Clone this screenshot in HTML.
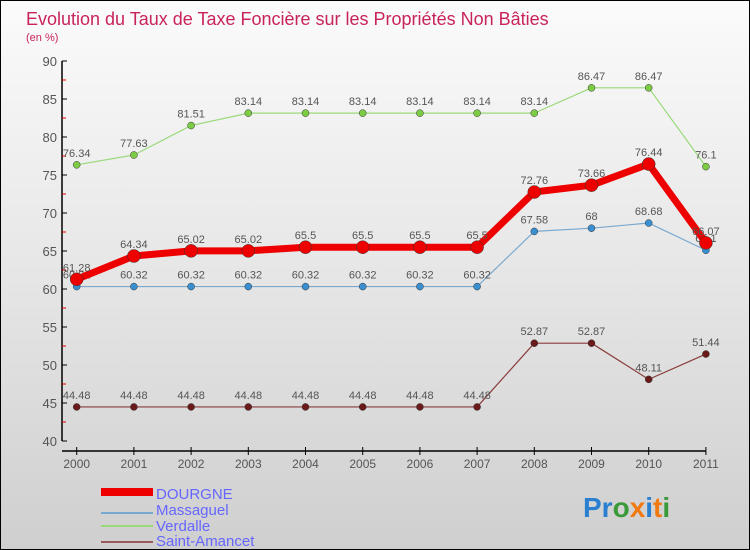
<!DOCTYPE html>
<html><head><meta charset="utf-8"><style>
body{margin:0}
#c{width:748px;height:548px;border:1px solid #000;background:linear-gradient(#fbfbfb,#e6e6e6 50%,#cfcfcf);position:relative;overflow:hidden;font-family:"Liberation Sans",sans-serif}
</style></head><body>
<div id="c">
<svg width="748" height="548" style="position:absolute;left:0;top:0" id="svg">
<text x="25" y="24" font-size="18" fill="#c8245a">Evolution du Taux de Taxe Foncière sur les Propriétés Non Bâties</text>
<text x="25" y="40" font-size="11" fill="#c8245a">(en %)</text>
<g id="axes"></g><g id="series"></g>
<g>
<rect x="100" y="487" width="52" height="8" fill="#e00"/>
<text x="155" y="498" font-size="15" fill="#6666ff">DOURGNE</text>
<line x1="100" y1="512" x2="152" y2="512" stroke="#7aa9d0" stroke-width="2"/>
<text x="155" y="514" font-size="15" fill="#6666ff">Massaguel</text>
<line x1="100" y1="525" x2="152" y2="525" stroke="#99d97a" stroke-width="2"/>
<text x="155" y="530" font-size="15" fill="#6666ff">Verdalle</text>
<line x1="100" y1="541" x2="152" y2="541" stroke="#9a5a5a" stroke-width="2"/>
<text x="155" y="545" font-size="15" fill="#6666ff">Saint-Amancet</text>
</g>
<text x="582" y="516" font-size="28" font-weight="bold"><tspan fill="#2a7fd0">Pr</tspan><tspan fill="#3a9a3a">o</tspan><tspan fill="#f07a10">x</tspan><tspan fill="#2a7fd0">i</tspan><tspan fill="#f07a10">t</tspan><tspan fill="#3a9a3a">i</tspan></text>
</svg>
</div>
<script>
const years=[2000,2001,2002,2003,2004,2005,2006,2007,2008,2009,2010,2011];
const yTicks=[40,45,50,55,60,65,70,75,80,85,90];
const dourgne=[61.28,64.34,65.02,65.02,65.5,65.5,65.5,65.5,72.76,73.66,76.44,66.07];
const massaguel=[60.32,60.32,60.32,60.32,60.32,60.32,60.32,60.32,67.58,68,68.68,65.1];
const verdalle=[76.34,77.63,81.51,83.14,83.14,83.14,83.14,83.14,83.14,86.47,86.47,76.1];
const saintAmancet=[44.48,44.48,44.48,44.48,44.48,44.48,44.48,44.48,52.87,52.87,48.11,51.44];
const NS="http://www.w3.org/2000/svg";
const X=i=>75.7+i*57.2;
const Y=v=>440-(v-40)*7.6;
function mk(p,t,a){const e=document.createElementNS(NS,t);for(const k in a)e.setAttribute(k,a[k]);p.appendChild(e);return e;}
const ax=document.getElementById('axes');
let l=mk(ax,'line',{x1:61,y1:Y(90),x2:61,y2:Y(40),stroke:'#000','stroke-width':1.5});


l=mk(ax,'line',{x1:61,y1:450,x2:X(11),y2:450,stroke:'#000','stroke-width':1.5});


yTicks.forEach(v=>{
 mk(ax,'line',{x1:61,y1:Y(v),x2:66,y2:Y(v),stroke:'#000'});
 if(v<90)mk(ax,'line',{x1:61,y1:Y(v+2.5),x2:65,y2:Y(v+2.5),stroke:'#d00'});
 const t=mk(ax,'text',{x:56,y:Y(v)+5,'font-size':13,'text-anchor':'end',fill:'#555'});t.textContent=v;
 
 
});
years.forEach((y,i)=>{
 mk(ax,'line',{x1:X(i),y1:446,x2:X(i),y2:454,stroke:'#000'});
 const t=mk(ax,'text',{x:X(i),y:467,'font-size':12,'text-anchor':'middle',fill:'#555'});t.textContent=y;
 
 
});
const sg=document.getElementById('series');
function draw(vals,color,dot,w,r,name){
 const g=mk(sg,'g',{});
 
 
 mk(g,'polyline',{points:vals.map((v,i)=>X(i)+','+Y(v)).join(' '),fill:'none',stroke:color,'stroke-width':w,'stroke-linejoin':'round'});
 vals.forEach((v,i)=>{
  const c=mk(g,'circle',{cx:X(i),cy:Y(v),r:r,fill:dot,stroke:'#333','stroke-width':0.5});
  
  
  const t=mk(g,'text',{x:X(i),y:Y(v)-8,'font-size':11,'text-anchor':'middle',fill:'#555'});t.textContent=v;
  
  
 });
}
draw(saintAmancet,'#8a3b3b','#6b1a1a',1.2,3.5,'saint-amancet');
draw(verdalle,'#99d97a','#7ccc44',1.2,3.5,'verdalle');
draw(massaguel,'#7aa9d0','#3a8fd0',1.2,3.5,'massaguel');
draw(dourgne,'#ee0000','#ee0000',7,6.5,'dourgne');
</script>
</body></html>
